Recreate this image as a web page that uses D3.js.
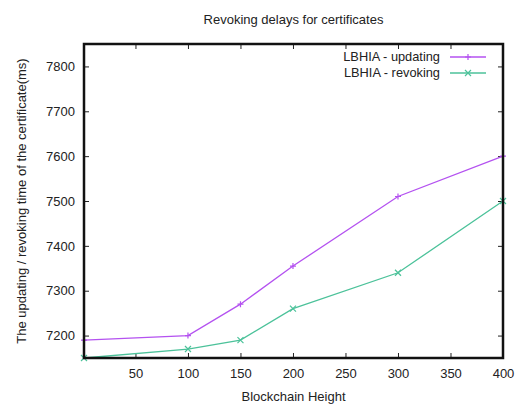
<!DOCTYPE html>
<html>
<head>
<meta charset="utf-8">
<script src="https://cdn.jsdelivr.net/npm/d3@7"></script>
<style>
  body { margin: 0; background: #fff; }
  text { font-family: "Liberation Sans", Arial, sans-serif; fill: #222; }
</style>
</head>
<body>
<div id="canvas"></div>
<script>
// chart data
const heights = [1, 100, 150, 200, 300, 400];
const updating = [7190, 7200, 7270, 7355, 7510, 7600];
const revoking = [7150, 7170, 7190, 7260, 7340, 7500];
const xTicks = [50, 100, 150, 200, 250, 300, 350, 400];
const yTicks = [7200, 7300, 7400, 7500, 7600, 7700, 7800];
const seriesNames = ["LBHIA - updating", "LBHIA - revoking"];

const width = 519;
const height = 406;
const margin = {top: 44, left: 84, bottom: 48, right: 16};
const iwidth = width - margin.left - margin.right;
const iheight = height - margin.top - margin.bottom;

const svg = d3.select("#canvas").append("svg")
    .attr("width", width)
    .attr("height", height);

const g = svg.append("g")
    .attr("transform", `translate(${margin.left}, ${margin.top})`);

const x = d3.scaleLinear()
    .domain([1, 400])
    .range([0, iwidth]);

const y = d3.scaleLinear()
    .domain([7150, 7850])
    .range([iheight, 0]);

// ticks on all four sides, pointing inward (gnuplot style)
const tickStyle = sel => {
    sel.select(".domain").remove();
    sel.selectAll("line").attr("stroke", "#222");
    sel.selectAll("text").style("font-size", "13px");
};

g.append("g")
    .attr("transform", `translate(0, ${iheight})`)
    .call(d3.axisBottom(x).tickValues(xTicks).tickSize(-5).tickPadding(11).tickFormat(d3.format("d")))
    .call(tickStyle);

g.append("g")
    .call(d3.axisTop(x).tickValues(xTicks).tickSize(-5).tickFormat(""))
    .call(tickStyle);

g.append("g")
    .call(d3.axisLeft(y).tickValues(yTicks).tickSize(-5).tickPadding(9).tickFormat(d3.format("d")))
    .call(tickStyle);

g.append("g")
    .attr("transform", `translate(${iwidth}, 0)`)
    .call(d3.axisRight(y).tickValues(yTicks).tickSize(-5).tickFormat(""))
    .call(tickStyle);

const colors = ["#b452f0", "#4cc29a"];
const allSeries = [updating, revoking];

const line = d3.line()
    .x((d, i) => x(heights[i]))
    .y(d => y(d));

const plus = (sel, s) => sel.attr("d", `M${-s},0H${s}M0,${-s}V${s}`);
const cross = (sel, s) => sel.attr("d", `M${-s},${-s}L${s},${s}M${-s},${s}L${s},${-s}`);

allSeries.forEach((vals, k) => {
    g.append("path")
        .datum(vals)
        .attr("fill", "none")
        .attr("stroke", colors[k])
        .attr("stroke-width", 1.3)
        .attr("d", line);

    g.selectAll(".pt" + k)
        .data(vals)
        .enter().append("path")
        .attr("class", "pt" + k)
        .attr("transform", (d, i) => `translate(${x(heights[i])}, ${y(d)})`)
        .attr("stroke", colors[k])
        .attr("stroke-width", 1.2)
        .attr("fill", "none")
        .each(function () {
            if (k === 0) plus(d3.select(this), 3);
            else cross(d3.select(this), 3);
        });
});

// frame
g.append("rect")
    .attr("width", iwidth)
    .attr("height", iheight)
    .attr("fill", "none")
    .attr("stroke", "#111")
    .attr("stroke-width", 2.5);

// legend
const legend = g.append("g").attr("transform", `translate(${iwidth - 63}, 13)`);
seriesNames.forEach((name, k) => {
    const row = legend.append("g").attr("transform", `translate(0, ${k * 16})`);
    row.append("text")
        .attr("x", 0)
        .attr("y", 0)
        .attr("dy", "0.35em")
        .attr("text-anchor", "end")
        .style("font-size", "12.8px")
        .text(name);
    row.append("line")
        .attr("x1", 10).attr("x2", 46)
        .attr("stroke", colors[k])
        .attr("stroke-width", 1.3);
    const m = row.append("path")
        .attr("transform", "translate(28, 0)")
        .attr("stroke", colors[k])
        .attr("stroke-width", 1.2)
        .attr("fill", "none");
    if (k === 0) plus(m, 3); else cross(m, 3);
});

svg.append("text")
    .attr("text-anchor", "middle")
    .style("font-size", "13px")
    .attr("x", margin.left + iwidth / 2)
    .attr("y", 24)
    .text("Revoking delays for certificates");

svg.append("text")
    .attr("text-anchor", "middle")
    .style("font-size", "13px")
    .attr("x", margin.left + iwidth / 2)
    .attr("y", 401)
    .text("Blockchain Height");

svg.append("text")
    .attr("text-anchor", "middle")
    .style("font-size", "13px")
    .attr("transform", `translate(26, ${margin.top + iheight / 2}) rotate(-90)`)
    .text("The updating / revoking time of the certificate(ms)");
</script>
</body>
</html>
